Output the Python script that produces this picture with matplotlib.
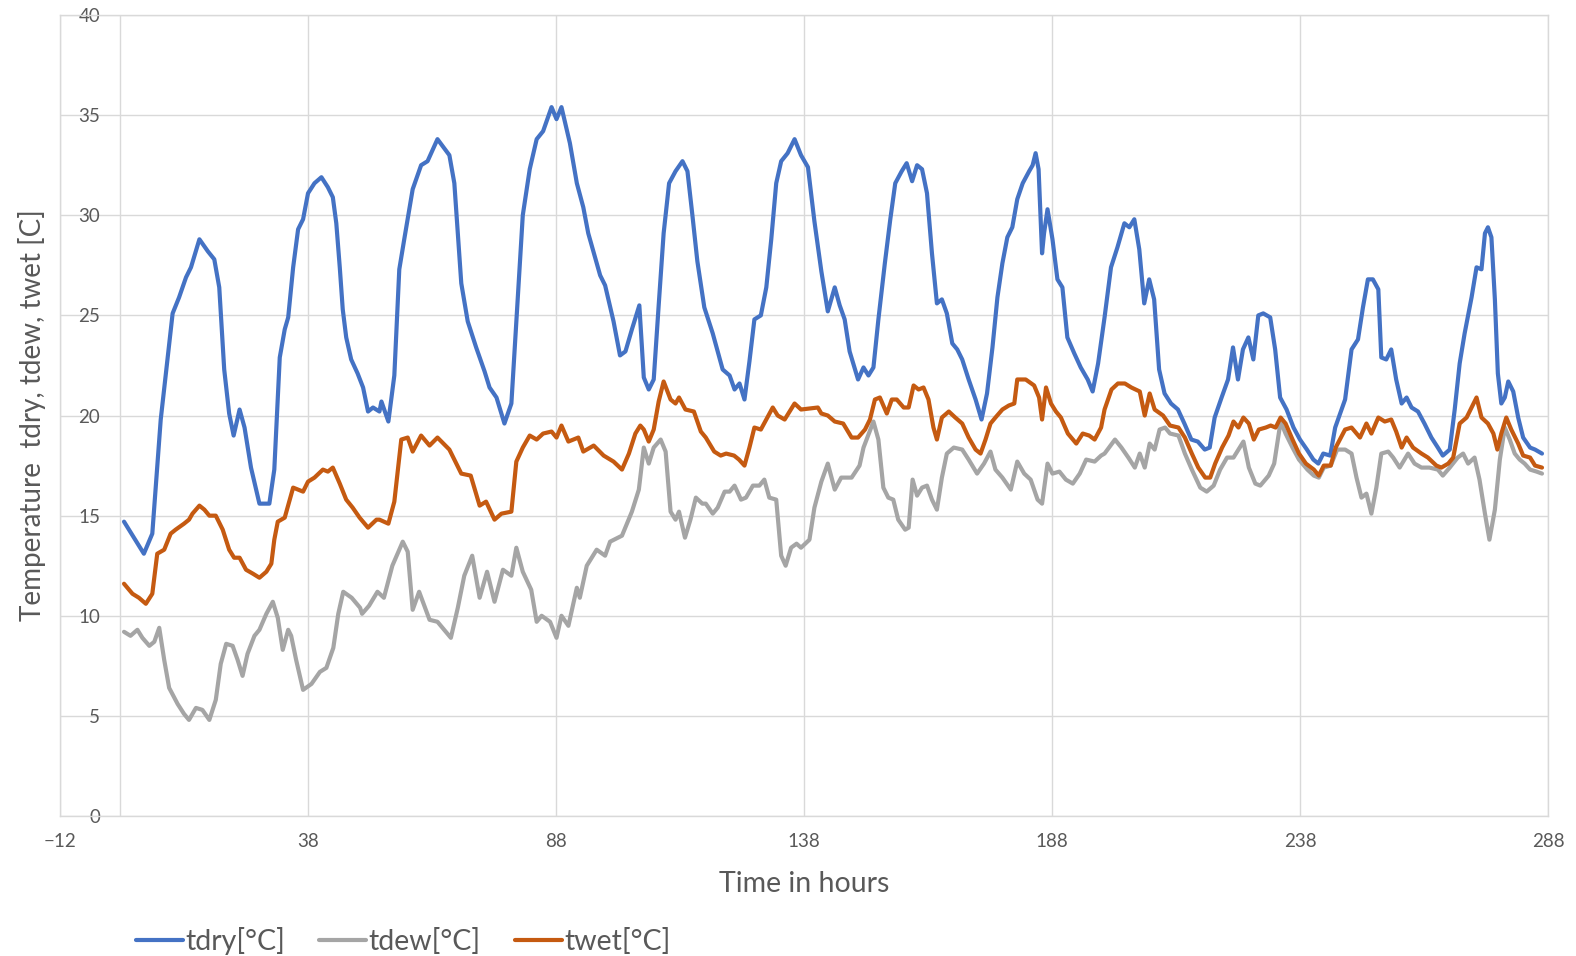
import matplotlib
matplotlib.use('Agg')
import matplotlib.pyplot as plt

plt.rcParams['font.family'] = ['Lato', 'DejaVu Sans']

# dry bulb temperature
tdry_h = [0.9, 4.9, 6.6, 8.3, 10.7, 12.0, 13.4, 14.4, 16.1, 17.8, 19.1, 20.1, 21.1, 22.1, 23.0, 24.2, 25.2, 26.5, 28.2, 30.2, 31.2,
          32.3, 33.3, 34.0, 35.0, 36.0, 37.0, 38.0, 39.3, 40.7, 42.0, 43.0, 43.7, 44.4, 45.0, 45.7, 46.7, 48.0, 49.1, 50.1, 51.1, 52.4,
          52.8, 54.2, 55.4, 56.4, 57.4, 59.1, 60.8, 62.1, 64.1, 66.5, 67.5, 68.9, 70.2, 71.9, 73.6, 74.6, 76.0, 77.6, 79.0, 80.0, 81.3,
          82.7, 84.1, 85.4, 87.1, 88.1, 89.1, 90.8, 92.2, 93.5, 94.5, 96.9,
          97.9, 99.6, 100.9, 102.0, 103.3, 104.8, 105.7, 106.7, 107.7, 108.7, 109.7, 110.8, 112.1, 113.5, 114.5, 115.5, 116.5, 117.9,
          119.6, 120.6, 121.6, 123.0, 124.0, 125.0, 126.0, 127.0, 128.0, 129.3, 130.4, 131.4, 132.4, 133.4, 134.7, 136.1, 137.4, 138.8,
          140.1, 141.5, 142.8, 144.2, 145.2, 146.2, 147.2, 148.9,
          150.0, 151.0, 152.0, 153.0, 154.3, 155.4, 156.4, 157.7, 158.7, 159.8, 160.8, 161.8, 162.8, 163.8, 164.8, 165.8, 166.8, 167.9,
          168.9, 169.9, 171.2, 172.6, 173.8, 174.9, 176.0, 177.0, 178.0, 179.0, 180.0, 181.0, 182.1, 183.4, 184.1, 184.7, 185.3, 186.0,
          186.4, 187.1, 188.1, 189.1, 190.1, 191.1, 192.5, 193.8, 195.2, 196.2, 197.3,
          198.6, 199.9, 201.2, 202.6, 203.6, 204.6, 205.6, 206.6, 207.6, 208.6, 209.6, 210.7, 212.0, 213.4, 214.7, 216.1, 217.4, 218.8,
          219.8, 220.8, 222.2, 223.5, 224.5, 225.5, 226.5, 227.6, 228.6, 229.6, 230.6, 232.0, 233.0, 234.0, 235.3, 236.7, 238.0, 239.4,
          240.7, 241.7, 242.7, 244.1, 245.1,
          247.1, 248.4, 249.7, 250.7, 251.7, 252.7, 253.8, 254.4, 255.4, 256.4, 257.4, 258.5, 259.5, 260.5, 261.8, 263.1, 264.5, 265.8,
          266.8, 268.2, 269.2, 270.2, 271.2, 272.6, 273.6, 274.6, 275.3, 275.9, 276.6, 277.3, 277.9, 278.6, 279.3, 280.0, 281.0, 282.0,
          283.0, 284.4, 285.4, 286.8]
tdry = [14.7, 13.1, 14.1, 19.8, 25.1, 25.9, 26.9, 27.4, 28.8, 28.2, 27.8, 26.4, 22.3, 20.1, 19.0, 20.3, 19.4, 17.4, 15.6, 15.6, 17.3,
        22.9, 24.3, 24.9, 27.4, 29.3, 29.8, 31.1, 31.6, 31.9, 31.4, 30.9, 29.6, 27.4, 25.3, 23.9, 22.8, 22.1, 21.4, 20.2, 20.4, 20.2,
        20.7, 19.7, 22.0, 27.3, 28.8, 31.3, 32.5, 32.7, 33.8, 33.0, 31.6, 26.6, 24.7, 23.4, 22.2, 21.4, 20.9, 19.6, 20.6, 24.7, 30.0,
        32.3, 33.8, 34.2, 35.4, 34.8, 35.4, 33.6, 31.6, 30.4, 29.1, 27.0,
        26.5, 24.7, 23.0, 23.2, 24.3, 25.5, 21.9, 21.3, 21.8, 25.5, 29.1, 31.6, 32.2, 32.7, 32.2, 30.0, 27.7, 25.4,
        24.1, 23.2, 22.3, 22.0, 21.3, 21.6, 20.8, 22.7, 24.8, 25.0, 26.4, 28.8, 31.6, 32.7, 33.1, 33.8, 33.0, 32.4,
        29.7, 27.2, 25.2, 26.4, 25.5, 24.8, 23.2, 21.8,
        22.4, 22.0, 22.4, 24.8, 27.6, 29.8, 31.6, 32.2, 32.6, 31.7, 32.5, 32.3, 31.1, 28.1, 25.6, 25.8, 25.1, 23.6,
        23.3, 22.8, 21.8, 20.8, 19.8, 21.1, 23.4, 25.9, 27.6, 28.9, 29.4, 30.8, 31.6, 32.2, 32.5, 33.1, 32.3, 28.1,
        29.1, 30.3, 28.8, 26.8, 26.4, 23.9, 23.1, 22.4, 21.8, 21.2, 22.6,
        24.9, 27.4, 28.4, 29.6, 29.4, 29.8, 28.3, 25.6, 26.8, 25.8, 22.3, 21.1, 20.6, 20.3, 19.6, 18.8, 18.7, 18.3,
        18.4, 19.9, 20.9, 21.8, 23.4, 21.8, 23.3, 23.9, 22.8, 25.0, 25.1, 24.9, 23.3, 20.9, 20.3, 19.4, 18.8, 18.3,
        17.8, 17.6, 18.1, 18.0, 19.4,
        20.8, 23.3, 23.8, 25.4, 26.8, 26.8, 26.3, 22.9, 22.8, 23.3, 21.8, 20.6, 20.9, 20.4, 20.2, 19.6, 18.9, 18.4,
        18.0, 18.3, 20.3, 22.6, 24.1, 25.9, 27.4, 27.3, 29.1, 29.4, 28.9, 25.8, 22.1, 20.6, 20.9, 21.7, 21.2, 19.9,
        18.9, 18.4, 18.3, 18.1]

# dew point temperature
tdew_h = [0.9, 2.2, 3.6, 4.6, 6.0, 7.0, 8.0, 9.0, 10.0, 11.7, 13.0, 14.0, 15.4, 16.7, 18.1, 19.4, 20.4, 21.5, 22.8, 23.8, 24.8,
          25.8, 27.2, 28.2, 29.6, 30.9, 31.9, 32.9, 34.0, 34.6, 35.6, 37.0, 38.7, 40.4, 41.7, 43.1, 44.1, 45.1, 46.8, 48.5,
          48.9, 50.3, 52.0, 53.3, 55.0, 57.1, 58.1, 59.1, 60.4, 62.5, 64.1, 66.8, 68.2, 69.5, 71.1, 72.6, 74.1, 75.6, 77.3, 79.0,
          80.0, 81.3, 83.0, 84.1, 85.1, 86.8, 88.1, 89.1, 90.5, 92.2, 92.8, 94.2, 96.2, 97.9,
          98.9, 101.3, 102.3, 103.3, 104.7, 105.7, 106.7, 107.7, 109.1, 110.1, 111.1, 112.1, 112.8, 114.0, 115.1, 116.2, 117.5,
          118.2, 119.6, 120.6, 122.0, 123.0, 124.0, 125.3, 126.3, 127.7, 129.0, 130.0, 131.0, 132.4, 133.4, 134.3, 135.4, 136.5,
          137.4, 139.1, 140.1, 141.5, 142.8, 144.2, 145.5, 147.6, 149.2,
          150.0, 152.0, 153.0, 154.0, 155.0, 156.0, 157.0, 158.4, 159.1, 159.9, 160.8, 161.8, 162.8, 163.8, 164.8, 165.8, 166.8,
          168.2, 169.9, 171.2, 172.9, 174.3, 175.6, 176.6, 178.0, 179.7, 181.0, 182.4, 183.7, 185.1, 186.0, 187.1, 188.1, 189.5,
          190.8, 192.2, 193.6, 194.9, 196.6, 197.9,
          198.6, 200.7, 202.0, 203.4, 204.7, 205.7, 206.7, 207.7, 208.7, 209.7, 210.8, 211.8, 213.5, 214.8, 216.2, 217.9, 219.2,
          220.6, 221.9, 223.3, 224.6, 226.6, 227.7, 229.0, 230.0, 231.7, 232.8, 234.1, 235.1, 236.5, 237.8, 239.5, 240.8, 241.8,
          242.8, 244.2, 245.5,
          247.1, 248.4, 249.4, 250.4, 251.4, 252.4, 253.4, 254.4, 255.8, 256.8, 258.1, 259.8, 261.1, 262.5, 264.1, 265.8, 266.8,
          268.2, 269.8, 270.9, 271.9, 273.2, 274.2, 275.3, 276.2, 277.3, 278.3, 279.3, 280.3, 281.3, 282.3, 283.3, 284.4, 285.7,
          286.8]
tdew = [9.2, 9.0, 9.3, 8.9, 8.5, 8.7, 9.4, 7.8, 6.4, 5.6, 5.1, 4.8, 5.4, 5.3, 4.8, 5.8, 7.6, 8.6, 8.5, 7.8, 7.0,
        8.1, 9.0, 9.3, 10.1, 10.7, 9.9, 8.3, 9.3, 9.0, 7.8, 6.3, 6.6, 7.2, 7.4, 8.4, 10.1, 11.2, 10.9, 10.4,
        10.1, 10.5, 11.2, 10.9, 12.5, 13.7, 13.2, 10.3, 11.2, 9.8, 9.7, 8.9, 10.4, 12.0, 13.0, 10.9, 12.2, 10.7, 12.3, 12.0,
        13.4, 12.2, 11.3, 9.7, 10.0, 9.7, 8.9, 10.0, 9.5, 11.4, 10.9, 12.5, 13.3, 13.0,
        13.7, 14.0, 14.6, 15.2, 16.3, 18.4, 17.6, 18.4, 18.8, 18.2, 15.2, 14.8, 15.2, 13.9, 14.8, 15.9, 15.6,
        15.6, 15.1, 15.4, 16.2, 16.2, 16.5, 15.8, 15.9, 16.5, 16.5, 16.8, 15.9, 15.8, 13.0, 12.5, 13.4, 13.6,
        13.4, 13.8, 15.4, 16.7, 17.6, 16.3, 16.9, 16.9, 17.5,
        18.4, 19.7, 18.8, 16.4, 15.9, 15.8, 14.8, 14.3, 14.4, 16.8, 16.0, 16.4, 16.5, 15.8, 15.3, 16.9, 18.1,
        18.4, 18.3, 17.8, 17.1, 17.6, 18.2, 17.3, 16.9, 16.3, 17.7, 17.1, 16.8, 15.8, 15.6, 17.6, 17.1, 17.2,
        16.8, 16.6, 17.1, 17.8, 17.7, 18.0,
        18.1, 18.8, 18.4, 17.9, 17.4, 18.1, 17.4, 18.6, 18.3, 19.3, 19.4, 19.1, 19.0, 18.1, 17.3, 16.4, 16.2,
        16.5, 17.3, 17.9, 17.9, 18.7, 17.4, 16.6, 16.5, 17.0, 17.6, 19.7, 19.1, 18.4, 17.8, 17.3, 17.0, 16.9,
        17.4, 17.5, 18.3,
        18.3, 18.1, 16.9, 15.9, 16.1, 15.1, 16.4, 18.1, 18.2, 17.9, 17.4, 18.1, 17.6, 17.4, 17.4, 17.3, 17.0,
        17.4, 17.9, 18.1, 17.6, 17.9, 16.8, 15.1, 13.8, 15.3, 17.8, 19.4, 18.8, 18.1, 17.8, 17.6, 17.3, 17.2,
        17.1]

# wet bulb temperature
twet_h = [0.9, 2.6, 3.9, 5.3, 6.6, 7.6, 9.0, 10.3, 11.3, 13.0, 14.0, 14.7, 16.1, 17.1, 18.1, 19.4, 20.8, 22.1, 23.1, 24.2, 25.5,
          26.9, 28.2, 29.6, 30.6, 31.2, 31.9,
          33.3, 35.0, 37.0, 38.0, 39.3, 41.0, 42.0, 43.0, 44.4, 45.7, 47.0, 48.4, 50.1, 51.8,
          52.4, 54.2, 55.4, 56.8, 58.1, 59.1, 60.8, 62.5, 64.1, 66.5, 68.9, 70.8, 72.6, 73.9, 75.6, 77.0, 79.0, 80.0, 81.3, 82.7,
          84.1, 85.4, 87.1, 88.1, 89.1, 90.5, 92.5, 93.5, 95.6, 97.6,
          99.6, 101.3, 102.7, 104.0, 105.0, 105.7, 106.7, 107.7, 108.7, 109.7, 111.1, 112.1, 112.8, 114.1, 115.8, 117.2, 118.2,
          119.9, 121.2, 122.3, 123.9, 124.9, 126.0, 127.0, 128.0, 129.3, 130.4, 131.7, 132.7, 134.1, 136.1, 137.4, 140.8, 141.5,
          142.8, 144.2, 145.9, 147.6, 148.9,
          150.3, 151.3, 152.3, 153.3, 154.7, 155.7, 156.7, 158.1, 159.1, 160.1, 161.1, 162.1, 163.1, 164.1, 164.8, 165.8, 167.2,
          168.5, 169.9, 171.2, 172.6, 173.6, 174.6, 175.6, 176.6, 178.0, 179.3, 180.4, 181.0, 182.7, 184.4, 185.4, 186.0, 186.8,
          187.8, 188.8, 189.8, 191.2, 192.9, 194.2, 195.5, 196.6, 197.9,
          198.6, 200.0, 201.3, 202.7, 204.0, 205.7, 206.7, 207.7, 208.7, 210.4, 211.8, 213.5, 214.8, 216.2, 217.5, 218.9, 219.9,
          220.9, 222.3, 223.6, 224.6, 225.6, 226.6, 227.7, 228.7, 229.7, 231.1, 232.1, 233.1, 234.1, 235.1, 236.5, 237.8, 239.2,
          240.8, 241.8, 242.8, 244.2, 245.2,
          247.1, 248.4, 250.1, 251.4, 252.4, 253.8, 255.1, 256.4, 257.4, 258.5, 259.5, 260.8, 262.5, 263.8, 265.5, 266.5, 267.9,
          268.9, 270.2, 271.6, 272.6, 273.6, 274.6, 275.9, 277.0, 277.8, 278.6, 279.6, 280.6, 282.0, 283.0, 284.4, 285.4, 286.8]
twet = [11.6, 11.1, 10.9, 10.6, 11.1, 13.1, 13.3, 14.1, 14.3, 14.6, 14.8, 15.1, 15.5, 15.3, 15.0, 15.0, 14.3, 13.3, 12.9, 12.9, 12.3,
        12.1, 11.9, 12.2, 12.6, 13.8, 14.7,
        14.9, 16.4, 16.2, 16.7, 16.9, 17.3, 17.2, 17.4, 16.6, 15.8, 15.4, 14.9, 14.4, 14.8,
        14.8, 14.6, 15.7, 18.8, 18.9, 18.2, 19.0, 18.5, 18.9, 18.3, 17.1, 17.0, 15.5, 15.7, 14.8, 15.1, 15.2, 17.7, 18.4, 19.0,
        18.8, 19.1, 19.2, 18.9, 19.5, 18.7, 18.9, 18.2, 18.5, 18.0,
        17.7, 17.3, 18.1, 19.1, 19.5, 19.3, 18.7, 19.3, 20.7, 21.7, 20.8, 20.6, 20.9, 20.3, 20.2, 19.2, 18.9,
        18.2, 18.0, 18.1, 18.0, 17.8, 17.5, 18.4, 19.4, 19.3, 19.8, 20.4, 20.0, 19.8, 20.6, 20.3, 20.4, 20.1,
        20.0, 19.7, 19.6, 18.9, 18.9,
        19.3, 19.8, 20.8, 20.9, 20.1, 20.8, 20.8, 20.4, 20.4, 21.5, 21.3, 21.4, 20.8, 19.4, 18.8, 19.9, 20.2,
        19.9, 19.6, 18.9, 18.3, 18.1, 18.8, 19.6, 19.9, 20.3, 20.5, 20.6, 21.8, 21.8, 21.5, 20.9, 19.8, 21.4,
        20.6, 20.2, 19.9, 19.1, 18.6, 19.1, 19.0, 18.8, 19.4,
        20.3, 21.3, 21.6, 21.6, 21.4, 21.2, 20.0, 21.1, 20.3, 20.0, 19.5, 19.4, 18.9, 18.1, 17.4, 16.9, 16.9,
        17.6, 18.4, 19.0, 19.7, 19.4, 19.9, 19.6, 18.8, 19.3, 19.4, 19.5, 19.4, 19.9, 19.6, 18.8, 18.1, 17.6,
        17.3, 17.0, 17.5, 17.5, 18.4,
        19.3, 19.4, 18.9, 19.6, 19.1, 19.9, 19.7, 19.8, 19.2, 18.4, 18.9, 18.4, 18.1, 17.9, 17.5, 17.4, 17.6,
        17.9, 19.6, 19.9, 20.4, 20.9, 19.9, 19.6, 19.1, 18.3, 19.1, 19.9, 19.3, 18.6, 18.0, 17.9, 17.5, 17.4]

x_ticks = [-12, 38, 88, 138, 188, 238, 288]
y_ticks = [0, 5, 10, 15, 20, 25, 30, 35, 40]

fig = plt.figure(figsize=(15.76, 9.56), dpi=100)
ax = fig.add_axes([0.0381, 0.1464, 0.9441, 0.8379])

lw = 3.0
ax.plot(tdry_h, tdry, color='#4472C4', linewidth=lw, solid_joinstyle='round', solid_capstyle='round', label='tdry[°C]', zorder=3)
ax.plot(tdew_h, tdew, color='#A5A5A5', linewidth=lw, solid_joinstyle='round', solid_capstyle='round', label='tdew[°C]', zorder=4)
ax.plot(twet_h, twet, color='#C55A11', linewidth=lw, solid_joinstyle='round', solid_capstyle='round', label='twet[°C]', zorder=5)

ax.set_xlim(-12, 288)
ax.set_ylim(0, 40)
ax.set_xticks(x_ticks)
ax.set_yticks(y_ticks)
ax.grid(True, color='#D9D9D9', linewidth=1.0, zorder=0)
ax.set_axisbelow(True)
ax.axvline(0, color='#D9D9D9', linewidth=1.0, zorder=1)
for s in ax.spines.values():
    s.set_color('#D9D9D9')
    s.set_linewidth(1.0)

ax.tick_params(axis='both', length=0, labelsize=13.5, colors='#595959')
ax.tick_params(axis='x', pad=12)
ax.tick_params(axis='y', pad=-29)

ax.set_xlabel('Time in hours', fontsize=20.5, color='#595959', labelpad=15)
ax.set_ylabel('Temperature  tdry, tdew, twet [C]', fontsize=20, color='#595959', labelpad=10)

fig.legend(loc='center left', bbox_to_anchor=(0.0863, 0.016), ncol=3, frameon=False,
           fontsize=20.5, handlelength=1.65, handletextpad=0.08, columnspacing=1.2,
           borderpad=0, borderaxespad=0, labelcolor='#595959')

fig.savefig('out.png', dpi=100)
